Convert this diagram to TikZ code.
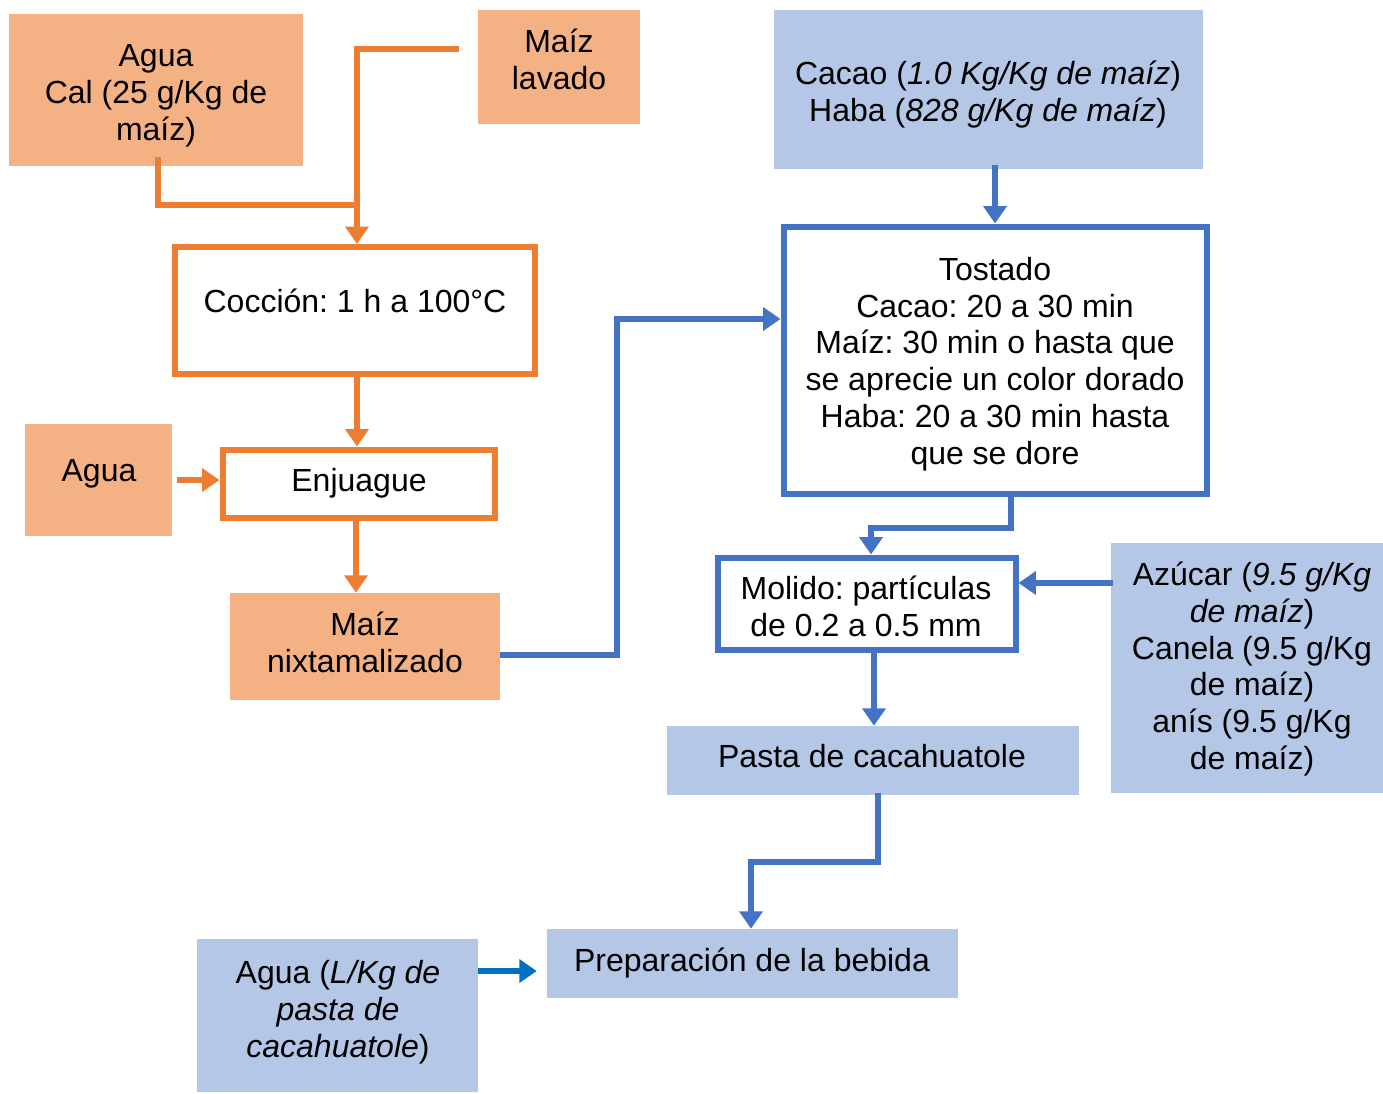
\documentclass[tikz,border=0pt]{standalone}
\usepackage{fontspec}
\setmainfont{Liberation Sans}
\frenchspacing
\usetikzlibrary{arrows.meta,calc}
\definecolor{ofill}{HTML}{F4B183}
\definecolor{oline}{HTML}{ED7D31}
\definecolor{bline}{HTML}{4472C4}
\definecolor{bfill}{HTML}{B4C7E7}
\definecolor{cline}{HTML}{0070C0}
\tikzset{
  obox/.style={rectangle, fill=ofill, inner sep=0pt},
  bbox/.style={rectangle, fill=bfill, inner sep=0pt},
  owbox/.style={rectangle, draw=oline, line width=4.5pt, fill=white, inner sep=0pt},
  bwbox/.style={rectangle, draw=bline, line width=4.5pt, fill=white, inner sep=0pt},
  txt/.style={align=center, inner sep=0pt, font=\fontsize{24}{27.6}\selectfont},
  oconn/.style={draw=oline, line width=4.5pt},
  oarrow/.style={oconn, -{Triangle[length=13pt,width=17pt]}},
  bconn/.style={draw=bline, line width=4.5pt},
  barrow/.style={bconn, -{Triangle[length=13pt,width=17pt]}},
  carrow/.style={draw=cline, line width=4.5pt, -{Triangle[length=13pt,width=17pt]}}
}
\begin{document}
\begin{tikzpicture}[x=0.75pt,y=-0.75pt]
\useasboundingbox (0,0) rectangle (1383,1093);
% boxes
\node[obox, minimum width=220.5pt, minimum height=114pt] (aguacal) at (156,90) {};
\node[obox, minimum width=121.5pt, minimum height=85.5pt] (maiz) at (559,67) {};
\node[owbox, minimum width=270pt, minimum height=95.25pt] (coccion) at (355,310.5) {};
\node[obox, minimum width=110.25pt, minimum height=84pt] (aguaL) at (98.5,480) {};
\node[owbox, minimum width=204pt, minimum height=51pt] (enjuague) at (358.5,483.5) {};
\node[obox, minimum width=202.5pt, minimum height=80.25pt] (nixt) at (365,646.5) {};
\node[bbox, minimum width=321.75pt, minimum height=119.25pt] (cacao) at (988.5,89.5) {};
\node[bwbox, minimum width=317.25pt, minimum height=200.25pt] (tostado) at (995,360) {};
\node[bwbox, minimum width=223.5pt, minimum height=69pt] (molido) at (866.5,603.5) {};
\node[bbox, minimum width=204pt, minimum height=187.5pt] (azucar) at (1247,668) {};
\node[bbox, minimum width=309pt, minimum height=51.75pt] (pasta) at (873,760.5) {};
\node[bbox, minimum width=308.25pt, minimum height=51.75pt] (prep) at (752.5,963.5) {};
\node[bbox, minimum width=210.75pt, minimum height=114.75pt] (aguaLK) at (337.5,1015.5) {};
% texts
\node[txt] (aguacal-t) at (156,95.5) {Agua\\Cal (25 g/Kg de\\maíz)};
\node[txt] (maiz-t) at (559,59) {Maíz\\lavado};
\node[txt] (coccion-t) at (355,301) {Cocción: 1 h a 100°C};
\node[txt] (aguaL-t) at (99,474) {Agua};
\node[txt] (enjuague-t) at (359,483) {Enjuague};
\node[txt] (nixt-t) at (365,642) {Maíz\\nixtamalizado};
\node[txt] (cacao-t) at (988,94.5) {Cacao (\textit{1.0 Kg/Kg de maíz})\\Haba (\textit{828 g/Kg de maíz})};
\node[txt] (tostado-t) at (995,364) {Tostado\\Cacao: 20 a 30 min\\Maíz: 30 min o hasta que\\se aprecie un color dorado\\Haba: 20 a 30 min hasta\\que se dore};
\node[txt] (molido-t) at (866,606) {Molido: partículas\\de 0.2 a 0.5 mm};
\node[txt] (azucar-t) at (1252,669) {Azúcar (\textit{9.5 g/Kg}\\\textit{de maíz})\\Canela (9.5 g/Kg\\de maíz)\\anís (9.5 g/Kg\\de maíz)};
\node[txt] (pasta-t) at (872,756) {Pasta de cacahuatole};
\node[txt] (prep-t) at (752,963) {Preparación de la bebida};
\node[txt] (aguaLK-t) at (338,1012) {Agua (\textit{L/Kg de}\\\textit{pasta de}\\\textit{cacahuatole})};
% helper coordinates
\coordinate (j1) at (357,205);
\coordinate (s1) at ([xshift=-14.25pt,yshift=13.5pt]maiz.west);
\coordinate (e1) at ([xshift=1.5pt]coccion.north);
\coordinate (s2) at ([xshift=1.5pt,yshift=6.75pt]aguacal.south);
\coordinate (s3) at ([xshift=1.5pt,yshift=3pt]coccion.south);
\coordinate (s4) at ([xshift=3.75pt]aguaL.east);
\coordinate (s5) at ([xshift=-1.9pt,yshift=3pt]enjuague.south);
\coordinate (s6) at ([yshift=-6.375pt]nixt.east);
\coordinate (k1) at (617,319);
\coordinate (s7) at ([yshift=3pt]tostado.north |- cacao.south);
\coordinate (s8) at ([xshift=12pt,yshift=4pt]tostado.south);
\coordinate (k2) at (871,528);
\coordinate (s9) at ([xshift=1.5pt,yshift=63.75pt]azucar.west);
\coordinate (s10) at ([xshift=5.625pt,yshift=2pt]molido.south);
\coordinate (s11) at ([xshift=3.75pt,yshift=2pt]pasta.south);
\coordinate (k4) at (751,862);
\coordinate (s12) at ([yshift=33.375pt]aguaLK.east);
\path (s12 -| prep.west) coordinate (p12);
\coordinate (e12) at ([xshift=-7.5pt]p12);
% connectors
\draw[oconn] (s2) |- (j1);
\draw[oarrow] (s1) -| (e1);
\draw[oarrow] (s3) -- (s3 |- enjuague.north);
\draw[oarrow] (s4) -- (s4 -| enjuague.west);
\draw[oarrow] (s5) -- (s5 |- nixt.north);
\draw[barrow] (s6) -| (k1) -- (k1 -| tostado.west);
\draw[barrow] (s7) -- (tostado.north);
\draw[barrow] (s8) |- (k2) -- (k2 |- molido.north);
\draw[barrow] (s9) -- (s9 -| molido.east);
\draw[barrow] (s10) -- (s10 |- pasta.north);
\draw[barrow] (s11) |- (k4) -- (k4 |- prep.north);
\draw[carrow] (s12) -- (e12);
\end{tikzpicture}
\end{document}
